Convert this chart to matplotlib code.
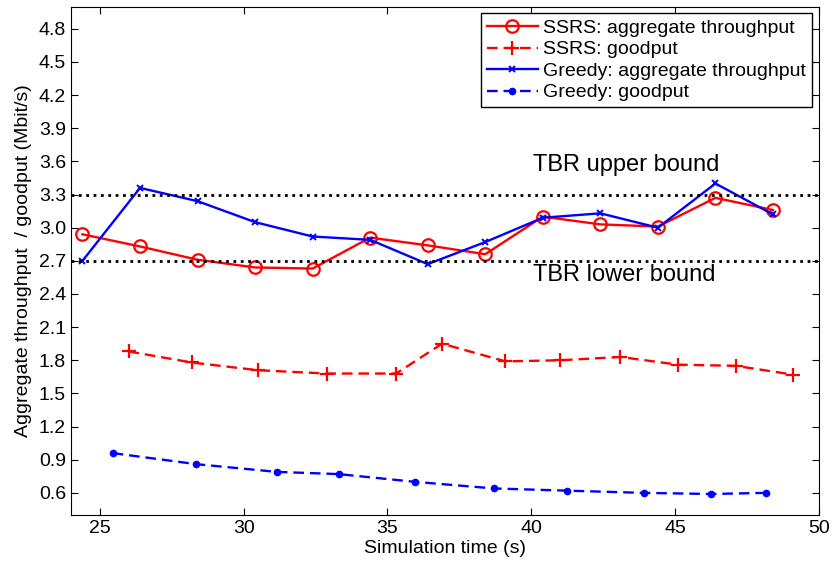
import matplotlib
matplotlib.use("Agg")
import matplotlib.pyplot as plt
import numpy as np

plt.rcParams['font.family'] = ['Liberation Sans', 'DejaVu Sans']

# SSRS / Greedy aggregate throughput (same sampling times)
agg_time = [24.4, 26.4, 28.4, 30.4, 32.4, 34.4, 36.4, 38.4, 40.4, 42.4, 44.4, 46.4, 48.4]
ssrs_agg = [2.94, 2.83, 2.71, 2.64, 2.63, 2.91, 2.84, 2.76, 3.10, 3.03, 3.01, 3.27, 3.16]
greedy_agg = [2.70, 3.36, 3.24, 3.05, 2.92, 2.89, 2.67, 2.87, 3.09, 3.13, 3.00, 3.40, 3.12]

ssrs_good_time = [26.0, 28.2, 30.5, 32.9, 35.3, 36.9, 39.1, 41.0, 43.1, 45.1, 47.1, 49.1]
ssrs_good = [1.88, 1.78, 1.71, 1.68, 1.68, 1.95, 1.79, 1.80, 1.83, 1.76, 1.75, 1.67]

greedy_good_time = [25.45, 28.35, 31.15, 33.3, 35.95, 38.7, 41.25, 43.9, 46.25, 48.15]
greedy_good = [0.96, 0.86, 0.79, 0.77, 0.70, 0.64, 0.62, 0.60, 0.59, 0.60]

tbr_upper = 3.3
tbr_lower = 2.7

fig = plt.figure(figsize=(8.33, 5.72), dpi=100)
ax = fig.add_axes([0.0852, 0.0997, 0.898, 0.8886])

ax.plot(agg_time, ssrs_agg, '-', color='red', lw=1.7, marker='o', ms=9,
        mfc='none', mew=1.6, label='SSRS: aggregate throughput')
ax.plot(ssrs_good_time, ssrs_good, '--', color='red', lw=1.7, marker='+', ms=10,
        mew=1.6, dashes=(4.5, 2.5), label='SSRS: goodput')
ax.plot(agg_time, greedy_agg, '-', color='blue', lw=1.7, marker='x', ms=5,
        mew=1.4, label='Greedy: aggregate throughput')
ax.plot(greedy_good_time, greedy_good, '--', color='blue', lw=1.7, marker='.', ms=9,
        dashes=(4.5, 2.5), label='Greedy: goodput')

ax.axhline(tbr_upper, color='black', ls=':', lw=2)
ax.axhline(tbr_lower, color='black', ls=':', lw=2)
ax.text(40.05, 3.57, 'TBR upper bound', fontsize=17, va='center', ha='left')
ax.text(40.05, 2.57, 'TBR lower bound', fontsize=17, va='center', ha='left')

ax.set_xlim(24, 50)
ax.set_ylim(0.4, 5.0)
ax.set_xticks([25, 30, 35, 40, 45, 50])
ax.set_yticks(np.round(np.arange(0.6, 4.81, 0.3), 1))
ax.set_yticklabels(['%.1f' % v for v in np.arange(0.6, 4.81, 0.3)])
ax.tick_params(direction='in', top=True, right=True, labelsize=14, length=5)

ax.set_xlabel('Simulation time (s)', fontsize=14, labelpad=2)
ax.set_ylabel('Aggregate throughput  / goodput (Mbit/s)', fontsize=14, labelpad=5)

leg = ax.legend(loc='upper right', fontsize=14, fancybox=False, framealpha=1,
                edgecolor='black', handlelength=2.6, borderpad=0.3,
                labelspacing=0.2, handletextpad=0.3, borderaxespad=0.35)
leg.get_frame().set_linewidth(1.0)

fig.savefig('out.png', dpi=100)
